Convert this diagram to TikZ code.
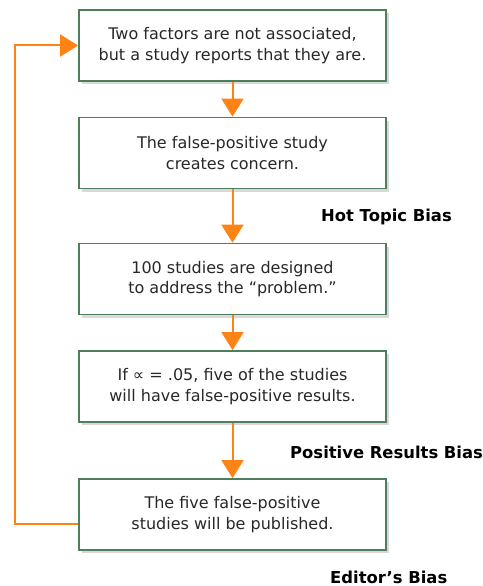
\documentclass[tikz,border=0pt]{standalone}
\usepackage{fontspec}
\setmainfont{DejaVu Sans}
\usetikzlibrary{arrows.meta,shadows}
\definecolor{boxgreen}{RGB}{79,127,90}
\definecolor{arrorange}{RGB}{255,130,20}
\definecolor{txt}{RGB}{40,40,40}
\tikzset{
  stepbox/.style={draw=boxgreen, line width=1.8pt, fill=white,
    minimum width=307pt, minimum height=71pt, align=center,
    inner sep=0pt, text=txt,
    font=\fontsize{16}{20.5}\selectfont,
    drop shadow={fill=black!15, shadow xshift=3pt, shadow yshift=-3pt, opacity=1}},
  flow/.style={draw=arrorange, line width=2pt,
    -{Triangle[width=22pt,length=18pt]}},
  biaslabel/.style={anchor=west, font=\fontsize{16.4}{18}\selectfont\bfseries, text=black, inner sep=0pt}
}
\begin{document}
\begin{tikzpicture}[x=1pt,y=-1pt]
\useasboundingbox (0,0) rectangle (482,586);
\node[stepbox] (b1) at (232.5,45.5) {Two factors are not associated,\\but a study reports that they are.};
\node[stepbox] (b2) at (232.5,153) {The false-positive study\\creates concern.};
\node[stepbox] (b3) at (232.5,279) {100 studies are designed\\to address the “problem.”};
\node[stepbox] (b4) at (232.5,386.5) {If ∝ = .05, five of the studies\\will have false-positive results.};
\node[stepbox] (b5) at (232.5,514.5) {The five false-positive\\studies will be published.};
\draw[flow] (b1) -- (b2);
\draw[flow] (b2) -- (b3);
\draw[flow] (b3) -- (b4);
\draw[flow] (b4) -- (b5);
\coordinate (fb) at (15,524);
\draw[flow] ([yshift=-9.5pt]b5.west) -- (fb) |- (b1.west);
\node[biaslabel] (l1) at (321,217) {Hot Topic Bias};
\node[biaslabel] (l2) at (290,452) {Positive Results Bias};
\node[biaslabel] (l3) at (330,577) {Editor’s Bias};
\end{tikzpicture}
\end{document}
